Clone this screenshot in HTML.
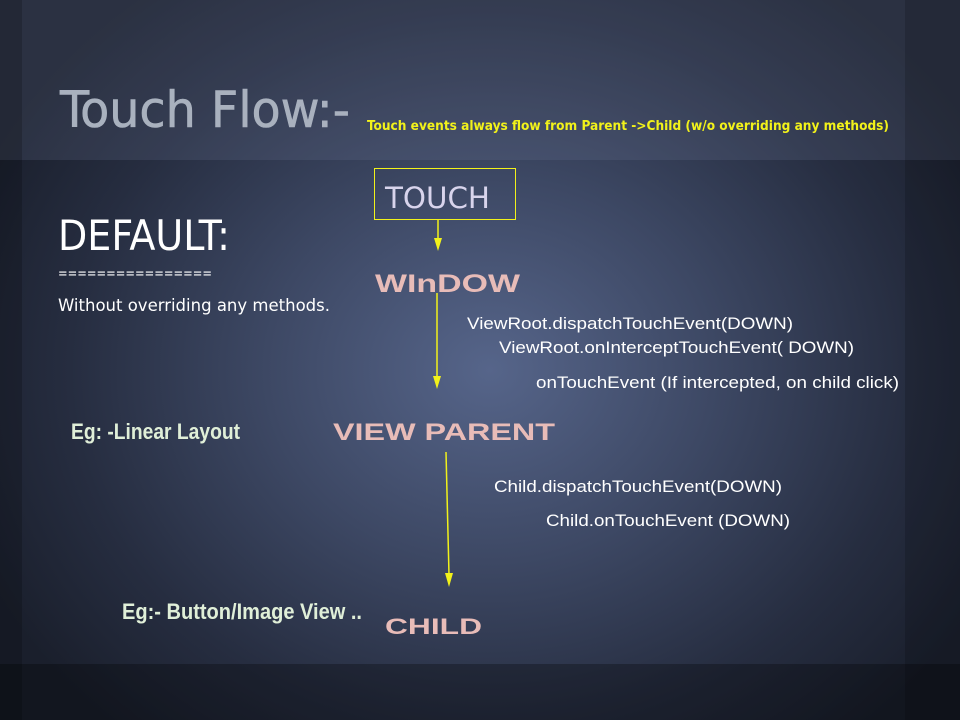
<!DOCTYPE html>
<html><head><meta charset="utf-8"><style>
html,body{margin:0;padding:0;width:960px;height:720px;overflow:hidden;background:#1e2433}
#bg{position:absolute;left:0;top:0;width:960px;height:720px;
background:radial-gradient(ellipse 560px 480px at 490px 370px,#56658a 0%,#3d4864 40%,#262d40 75%,#1a1f2c 100%);}
.band{position:absolute;left:0;width:960px}
</style></head><body>
<div id="bg"></div>
<div class="band" style="top:0;height:160px;background:rgba(120,135,165,0.18)"></div>
<div class="band" style="top:664px;height:56px;background:rgba(0,0,0,0.28)"></div>
<div style="position:absolute;left:0;top:0;width:22px;height:720px;background:rgba(0,0,0,0.18)"></div>
<div style="position:absolute;left:905px;top:0;width:55px;height:720px;background:rgba(0,0,0,0.15)"></div>
<svg width="960" height="720" style="position:absolute;left:0;top:0" xmlns="http://www.w3.org/2000/svg">
<g font-family="DejaVu Sans Condensed, DejaVu Sans, sans-serif">
<text x="60" y="127" font-size="50" fill="#a9b1be" stroke="#a9b1be" stroke-width="0.6" textLength="290" lengthAdjust="spacingAndGlyphs">Touch Flow:-</text>
<text x="367" y="130" font-size="13" font-weight="bold" fill="#f2f21a" textLength="522" lengthAdjust="spacingAndGlyphs">Touch events always flow from Parent -&gt;Child (w/o overriding any methods)</text>
<text x="58" y="250" font-size="42" fill="#ffffff" textLength="172" lengthAdjust="spacingAndGlyphs">DEFAULT:</text>
<text x="58" y="278" font-size="14" fill="#ffffff" textLength="154" lengthAdjust="spacingAndGlyphs">================</text>
<text x="58" y="311" font-size="17" fill="#ffffff" textLength="272" lengthAdjust="spacingAndGlyphs">Without overriding any methods.</text>
<text x="385" y="208" font-size="29" fill="#d8d4ec" textLength="105" lengthAdjust="spacingAndGlyphs">TOUCH</text>
</g>
<rect x="374.5" y="168.5" width="141" height="51" fill="none" stroke="#f2f21a" stroke-width="1"/>
<g font-family="Liberation Sans, sans-serif" font-weight="bold" fill="#e8bcb8">
<text x="375" y="292" font-size="25" textLength="145" lengthAdjust="spacingAndGlyphs">WInDOW</text>
<text x="333" y="440" font-size="24" textLength="222" lengthAdjust="spacingAndGlyphs">VIEW PARENT</text>
<text x="385" y="634" font-size="22" textLength="97" lengthAdjust="spacingAndGlyphs">CHILD</text>
</g>
<g font-family="Liberation Sans Narrow, Liberation Sans, sans-serif" font-weight="bold" fill="#e0efd8">
<text x="71" y="439" font-size="22" textLength="169" lengthAdjust="spacingAndGlyphs">Eg: -Linear Layout</text>
<text x="122" y="619" font-size="22" textLength="240" lengthAdjust="spacingAndGlyphs">Eg:- Button/Image View ..</text>
</g>
<g font-family="Liberation Sans, sans-serif" font-size="17" fill="#ffffff">
<text x="467" y="329" textLength="326" lengthAdjust="spacingAndGlyphs">ViewRoot.dispatchTouchEvent(DOWN)</text>
<text x="499" y="353" textLength="355" lengthAdjust="spacingAndGlyphs">ViewRoot.onInterceptTouchEvent( DOWN)</text>
<text x="536" y="388" textLength="363" lengthAdjust="spacingAndGlyphs">onTouchEvent (If intercepted, on child click)</text>
<text x="494" y="492" textLength="288" lengthAdjust="spacingAndGlyphs">Child.dispatchTouchEvent(DOWN)</text>
<text x="546" y="526" textLength="244" lengthAdjust="spacingAndGlyphs">Child.onTouchEvent (DOWN)</text>
</g>
<g stroke="#f2f21a" stroke-width="1.5" fill="#f2f21a">
<line x1="438" y1="220" x2="438" y2="240"/>
<polygon points="434,238 442,238 438,251" stroke="none"/>
<line x1="437" y1="293" x2="437" y2="378"/>
<polygon points="433,376 441,376 437,389" stroke="none"/>
<line x1="446" y1="452" x2="449" y2="575"/>
<polygon points="445,573 453,573 449,587" stroke="none"/>
</g>
</svg>
</body></html>
